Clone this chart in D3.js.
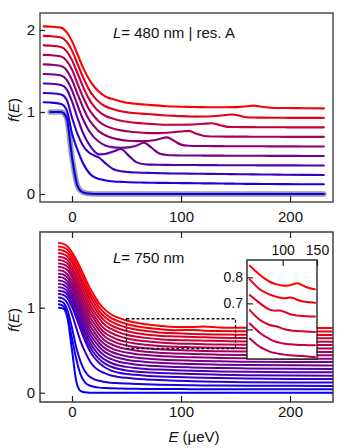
<!DOCTYPE html>
<html>
<head>
<meta charset="utf-8">
<script src="https://cdnjs.cloudflare.com/ajax/libs/d3/7.8.5/d3.min.js"></script>
<style>
  body { margin: 0; background: #fff; }
  svg text { font-family: "Liberation Sans", Arial, sans-serif; font-size: 15px; fill: #111; }
  .tick line { stroke: #222; stroke-width: 1.2; }
</style>
</head>
<body>
<div id="chart"></div>
<script>

// ---- top panel: L = 480 nm | res. A  (f(E) read off, without offset)
var topE = [-26, -20, -10, -5, 0, 5, 10, 15, 20, 25, 30, 38, 45, 52, 59, 66, 73, 80, 87, 94, 100,
            107, 114, 121, 128, 135, 141, 147, 154, 160, 167, 174, 182, 195, 215, 231];
var topOffsets = [0, 0.118, 0.232, 0.348, 0.464, 0.58, 0.696, 0.812, 0.928, 1.044];
var topF = [
  [null, 1, 1, 0.93, 0.45, 0.1, 0.02, 0.005, 0, 0, 0, 0, 0, 0, 0, 0, 0, 0, 0, 0, 0, 0, 0, 0, 0, 0, 0, 0, 0, 0, 0, 0, 0, 0, 0, 0],
  [1, 0.997, 0.98, 0.91, 0.62, 0.42, 0.26, 0.15, 0.09, 0.065, 0.05, 0.035, 0.03, 0.026, 0.023, 0.021, 0.019, 0.018, 0.017, 0.016, 0.015, 0.014, 0.013, 0.012, 0.011, 0.01, 0.009, 0.008, 0.007, 0.006, 0.005, 0.004, 0.003, 0.002, 0.001, 0],
  [1, 0.997, 0.98, 0.92, 0.7, 0.5, 0.36, 0.28, 0.24, 0.21, 0.15, 0.07, 0.045, 0.035, 0.03, 0.027, 0.024, 0.022, 0.02, 0.018, 0.017, 0.016, 0.015, 0.014, 0.013, 0.012, 0.011, 0.01, 0.009, 0.008, 0.007, 0.006, 0.005, 0.003, 0.001, 0],
  [1, 0.997, 0.98, 0.93, 0.78, 0.58, 0.4, 0.27, 0.18, 0.135, 0.14, 0.17, 0.2, 0.12, 0.04, 0.015, 0.01, 0.008, 0.007, 0.006, 0.006, 0.005, 0.005, 0.004, 0.004, 0.003, 0.003, 0.003, 0.002, 0.002, 0.002, 0.001, 0.001, 0.001, 0, 0],
  [1, 0.997, 0.98, 0.93, 0.8, 0.62, 0.45, 0.32, 0.23, 0.17, 0.13, 0.105, 0.1, 0.105, 0.125, 0.16, 0.1, 0.03, 0.012, 0.008, 0.006, 0.005, 0.005, 0.004, 0.004, 0.004, 0.003, 0.003, 0.003, 0.002, 0.002, 0.002, 0.001, 0.001, 0, 0],
  [1, 0.997, 0.98, 0.93, 0.81, 0.64, 0.48, 0.34, 0.25, 0.18, 0.14, 0.1, 0.08, 0.07, 0.065, 0.065, 0.072, 0.09, 0.11, 0.065, 0.022, 0.008, 0.005, 0.005, 0.004, 0.004, 0.003, 0.003, 0.003, 0.002, 0.002, 0.002, 0.001, 0.001, 0, 0],
  [1, 0.997, 0.98, 0.93, 0.82, 0.65, 0.49, 0.35, 0.255, 0.185, 0.14, 0.1, 0.08, 0.066, 0.056, 0.05, 0.046, 0.046, 0.05, 0.058, 0.066, 0.074, 0.04, 0.012, 0.006, 0.005, 0.004, 0.004, 0.003, 0.003, 0.002, 0.002, 0.002, 0.001, 0, 0],
  [1, 0.997, 0.98, 0.93, 0.82, 0.66, 0.5, 0.36, 0.26, 0.19, 0.145, 0.105, 0.08, 0.066, 0.055, 0.047, 0.041, 0.036, 0.033, 0.032, 0.032, 0.034, 0.038, 0.045, 0.05, 0.03, 0.01, 0.005, 0.004, 0.003, 0.003, 0.002, 0.002, 0.001, 0, 0],
  [1, 0.997, 0.98, 0.93, 0.82, 0.66, 0.5, 0.36, 0.26, 0.19, 0.145, 0.105, 0.08, 0.066, 0.056, 0.049, 0.044, 0.036, 0.03, 0.025, 0.021, 0.018, 0.016, 0.017, 0.02, 0.026, 0.034, 0.042, 0.025, 0.008, 0.004, 0.003, 0.002, 0.001, 0, 0],
  [1, 0.997, 0.985, 0.93, 0.82, 0.66, 0.5, 0.37, 0.27, 0.2, 0.15, 0.11, 0.085, 0.066, 0.055, 0.047, 0.04, 0.033, 0.026, 0.022, 0.02, 0.018, 0.016, 0.015, 0.014, 0.014, 0.014, 0.015, 0.018, 0.025, 0.033, 0.02, 0.008, 0.004, 0.002, 0]
];

// ---- bottom panel: L = 750 nm
var botE = [-12, -8, -4, 0, 4, 8, 12, 16, 20, 25, 30, 36, 43, 50, 58, 68, 80, 95, 110, 121, 135, 160, 200, 240];
var botOffsets = [0, 0.04, 0.08, 0.12, 0.16, 0.2, 0.24, 0.28, 0.32, 0.36, 0.4, 0.44, 0.48, 0.52, 0.56, 0.6, 0.64, 0.68, 0.72, 0.76];
var botF = [
  [1, 0.99, 0.87, 0.5, 0.13, 0.02, 0.005, 0, 0, 0, 0, 0, 0, 0, 0, 0, 0, 0, 0, 0, 0, 0, 0, 0],
  [1, 0.98, 0.85, 0.6, 0.35, 0.17, 0.08, 0.045, 0.03, 0.02, 0.015, 0.012, 0.01, 0.008, 0.006, 0.005, 0.004, 0.003, 0.002, 0.002, 0.001, 0.001, 0, 0],
  [1, 0.98, 0.88, 0.68, 0.45, 0.28, 0.17, 0.11, 0.08, 0.06, 0.045, 0.037, 0.032, 0.028, 0.024, 0.019, 0.015, 0.011, 0.008, 0.006, 0.004, 0.002, 0.001, 0],
  [1, 0.985, 0.93, 0.8, 0.64, 0.48, 0.36, 0.26, 0.19, 0.14, 0.11, 0.082, 0.066, 0.055, 0.045, 0.037, 0.03, 0.022, 0.016, 0.012, 0.008, 0.004, 0.001, 0],
  [1, .99, .95, .85, .72, .58, .45, .34, .26, .19, .14, .10, .075, .06, .05, .04, .032, .025, .02, .016, .012, .007, .002, 0],
  [1, .99, .95, .85, .72, .59, .46, .35, .27, .195, .145, .105, .078, .062, .05, .04, .032, .025, .02, .016, .012, .007, .002, 0],
  [1, .99, .95, .86, .73, .60, .47, .36, .28, .20, .15, .11, .08, .064, .051, .04, .032, .025, .019, .015, .011, .006, .002, 0],
  [1, .99, .95, .86, .74, .61, .48, .37, .29, .21, .155, .115, .085, .066, .052, .041, .032, .024, .018, .014, .01, .006, .002, 0],
  [1, .99, .95, .86, .74, .62, .49, .38, .30, .22, .16, .12, .088, .068, .053, .042, .032, .024, .018, .014, .01, .005, .002, 0],
  [1, .99, .95, .87, .75, .63, .50, .39, .31, .225, .165, .122, .09, .07, .054, .042, .032, .023, .017, .013, .009, .005, .001, 0],
  [1, .99, .95, .87, .75, .63, .51, .40, .32, .23, .17, .125, .092, .072, .055, .043, .032, .023, .017, .013, .009, .005, .001, 0],
  [1, .99, .95, .87, .76, .64, .52, .41, .33, .24, .175, .13, .095, .074, .056, .043, .031, .022, .016, .012, .008, .004, .001, 0],
  [1, .99, .96, .88, .77, .65, .53, .42, .34, .25, .18, .135, .098, .076, .057, .044, .031, .022, .016, .012, .008, .004, .001, 0],
  [1, .99, .96, .88, .77, .66, .54, .43, .35, .255, .185, .14, .10, .078, .058, .044, .03, .021, .016, .012, .008, .004, .001, 0],
  [1, .99, .96, .88, .78, .66, .55, .44, .355, .26, .19, .145, .105, .08, .06, .045, .03, .02, .015, .011, .007, .003, .001, 0],
  [1, .99, .96, .88, .78, .67, .56, .45, .36, .27, .20, .15, .11, .082, .061, .045, .03, .02, .015, .012, .007, .003, .001, 0],
  [1, .99, .96, .89, .79, .68, .57, .46, .37, .275, .205, .152, .112, .085, .062, .045, .03, .022, .015, .012, .007, .003, .001, 0],
  [1, .99, .96, .89, .79, .68, .57, .47, .38, .28, .21, .155, .115, .087, .063, .045, .029, .02, .012, .008, .004, .002, 0, 0],
  [1, .99, .96, .89, .80, .69, .58, .47, .385, .285, .215, .158, .118, .088, .064, .045, .028, .016, .018, .01, .005, .002, 0, 0],
  [1, .99, .96, .89, .80, .70, .59, .48, .39, .29, .22, .16, .12, .09, .065, .045, .028, .014, .014, .02, .008, .003, .001, 0]
];

// ---- inset (zoom of dashed box), absolute values, top curve first
var insetE = [52, 60, 67, 75, 81, 90, 96, 101, 106, 111, 116, 121, 127, 133, 140, 147];
var insetF = [
  [.845, .825, .809, .793, .783, .774, .77, .768, .768, .77, .774, .777, .772, .764, .758, .754],
  [.792, .77, .753, .741, .734, .726, .722, .72, .721, .723, .72, .714, .709, .706, .704, .702],
  [.732, .715, .70, .685, .676, .672, .673, .669, .664, .658, .655, .653, .652, .651, .65, .65],
  [.674, .652, .636, .624, .617, .612, .607, .602, .599, .597, .595, .594, .593, .592, .591, .59],
  [.623, .603, .586, .572, .563, .553, .549, .546, .544, .543, .542, .541, .54, .54, .539, .539],
  [.565, .547, .533, .522, .515, .509, .506, .504, .502, .501, .50, .499, .498, .497, .495, .494]
];
var insetColorIdx = [19, 18, 17, 16, 15, 14];

var xTicks = [0, 100, 200];

var svg = d3.select("#chart").append("svg")
    .attr("width", 349)
    .attr("height", 448);

var x = d3.scaleLinear().domain([-29.36, 239.4]).range([40, 333]);
var yTop = d3.scaleLinear().domain([-0.0976, 2.207]).range([202, 13]);
var yBot = d3.scaleLinear().domain([-0.109, 1.89]).range([402, 232]);

var blueRed = d3.interpolateRgb("#0000ff", "#ff0000");

function clip(id, x0, y0, w, h) {
  svg.append("clipPath").attr("id", id)
    .append("rect").attr("x", x0).attr("y", y0).attr("width", w).attr("height", h);
}
clip("clipTop", 40, 13, 293, 189);
clip("clipBot", 40, 232, 293, 170);
clip("clipIn", 247, 260, 70, 99);

function series(E, F, off) {
  return E.map(function(e, i) { return F[i] == null ? null : [e, F[i] + off]; });
}

// ---------------- top panel
var lineTop = d3.line()
    .defined(function(d) { return d != null; })
    .x(function(d) { return x(d[0]); })
    .y(function(d) { return yTop(d[1]); })
    .curve(d3.curveMonotoneX);

var gTop = svg.append("g").attr("clip-path", "url(#clipTop)");
gTop.append("path")
    .attr("d", lineTop(series(topE, topF[0], 0)))
    .attr("fill", "none").attr("stroke", "#9c9c9c").attr("stroke-width", 5.5)
    .attr("stroke-linecap", "round");
topF.forEach(function(f, k) {
  gTop.append("path")
    .attr("d", lineTop(series(topE, f, topOffsets[k])))
    .attr("fill", "none")
    .attr("stroke", blueRed(k / (topF.length - 1)))
    .attr("stroke-width", 2.1)
    .attr("stroke-linecap", "round");
});

svg.append("rect").attr("x", 40).attr("y", 13).attr("width", 293).attr("height", 189)
    .attr("fill", "none").attr("stroke", "#444").attr("stroke-width", 1.4);

svg.append("g").attr("transform", "translate(40,0)")
    .call(d3.axisLeft(yTop).tickValues([0, 1, 2]).tickFormat(d3.format("d"))
      .tickSizeInner(-5).tickSizeOuter(0).tickPadding(5))
    .call(function(g) { g.select(".domain").remove(); });
svg.append("g").attr("transform", "translate(0,202)")
    .call(d3.axisBottom(x).tickValues(xTicks).tickSizeInner(-6).tickSizeOuter(0).tickPadding(9.5))
    .call(function(g) { g.select(".domain").remove(); });

var t1 = svg.append("text").attr("x", 113).attr("y", 38);
t1.append("tspan").attr("font-style", "italic").text("L");
t1.append("tspan").text("= 480 nm | res. A");

function fLabel(cy) {
  var t = svg.append("text").attr("transform", "translate(19," + cy + ") rotate(-90)")
      .attr("text-anchor", "middle");
  t.append("tspan").attr("font-style", "italic").text("f");
  t.append("tspan").text("(");
  t.append("tspan").attr("font-style", "italic").text("E");
  t.append("tspan").text(")");
}
fLabel(110);

// ---------------- bottom panel
var lineBot = d3.line()
    .x(function(d) { return x(d[0]); })
    .y(function(d) { return yBot(d[1]); })
    .curve(d3.curveMonotoneX);

var gBot = svg.append("g").attr("clip-path", "url(#clipBot)");
botF.forEach(function(f, k) {
  gBot.append("path")
    .attr("d", lineBot(series(botE, f, botOffsets[k])))
    .attr("fill", "none")
    .attr("stroke", blueRed(k / (botF.length - 1)))
    .attr("stroke-width", 2)
    .attr("stroke-linecap", "round");
});

svg.append("rect")
    .attr("x", x(50)).attr("y", yBot(0.87))
    .attr("width", x(150) - x(50)).attr("height", yBot(0.52) - yBot(0.87))
    .attr("fill", "none").attr("stroke", "#111").attr("stroke-width", 1.3)
    .attr("stroke-dasharray", "3,2");

svg.append("rect").attr("x", 40).attr("y", 232).attr("width", 293).attr("height", 170)
    .attr("fill", "none").attr("stroke", "#333").attr("stroke-width", 1.4);

svg.append("g").attr("transform", "translate(40,0)")
    .call(d3.axisLeft(yBot).tickValues([0, 1]).tickFormat(d3.format("d"))
      .tickSizeInner(-5).tickSizeOuter(0).tickPadding(5))
    .call(function(g) { g.select(".domain").remove(); });
svg.append("g").attr("transform", "translate(0,402)")
    .call(d3.axisBottom(x).tickValues(xTicks).tickSizeInner(-6).tickSizeOuter(0).tickPadding(4))
    .call(function(g) { g.select(".domain").remove(); });
svg.append("g").attr("transform", "translate(0,232)")
    .call(d3.axisTop(x).tickValues(xTicks).tickFormat("").tickSizeInner(-6).tickSizeOuter(0))
    .call(function(g) { g.select(".domain").remove(); });

var t2 = svg.append("text").attr("x", 113).attr("y", 263);
t2.append("tspan").attr("font-style", "italic").text("L");
t2.append("tspan").text("= 750 nm");

fLabel(320);

var xl = svg.append("text").attr("x", 194).attr("y", 442).attr("text-anchor", "middle");
xl.append("tspan").attr("font-style", "italic").text("E");
xl.append("tspan").text(" (\u03bceV)");

// ---------------- inset
var xIn = d3.scaleLinear().domain([48, 150]).range([247, 317]);
var yIn = d3.scaleLinear().domain([0.4865, 0.8665]).range([359, 260]);

svg.append("rect").attr("x", 247).attr("y", 260).attr("width", 70).attr("height", 99)
    .attr("fill", "#fff");

var lineIn = d3.line()
    .x(function(d) { return xIn(d[0]); })
    .y(function(d) { return yIn(d[1]); })
    .curve(d3.curveMonotoneX);
var gIn = svg.append("g").attr("clip-path", "url(#clipIn)");
insetF.forEach(function(f, i) {
  gIn.append("path")
    .attr("d", lineIn(series(insetE, f, 0)))
    .attr("fill", "none")
    .attr("stroke", blueRed(insetColorIdx[i] / 19))
    .attr("stroke-width", 2)
    .attr("stroke-linecap", "round");
});

svg.append("rect").attr("x", 247).attr("y", 260).attr("width", 70).attr("height", 99)
    .attr("fill", "none").attr("stroke", "#111").attr("stroke-width", 1.3);

svg.append("g").attr("transform", "translate(247,0)")
    .call(d3.axisLeft(yIn).tickValues([0.6, 0.7, 0.8])
      .tickFormat(function(d) { return d === 0.6 ? "" : d3.format(".1f")(d); })
      .tickSizeInner(-6).tickSizeOuter(0).tickPadding(4))
    .call(function(g) { g.select(".domain").remove(); g.selectAll("text").style("font-size", "14px"); });
svg.append("g").attr("transform", "translate(0,260)")
    .call(d3.axisTop(xIn).tickValues([100, 150]).tickSizeInner(-6).tickSizeOuter(0).tickPadding(5))
    .call(function(g) { g.select(".domain").remove(); g.selectAll("text").style("font-size", "14px"); });

</script>
</body>
</html>
